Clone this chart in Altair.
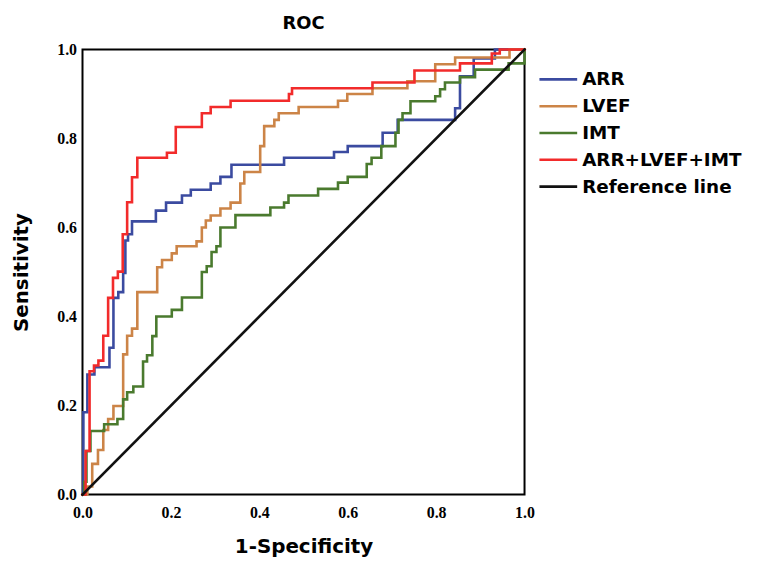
import altair as alt
import pandas as pd

series_names = ["ARR", "LVEF", "IMT", "ARR+LVEF+IMT", "Reference line"]
series_colors = ["#3B4BA0", "#CC8447", "#4A7A2E", "#F22B2B", "#111111"]
series_widths = [2.6, 2.6, 2.6, 2.6, 1.4]

tick_values = [0.0, 0.2, 0.4, 0.6, 0.8, 1.0]

# x position of each vertical step (1-specificity) and level reached (sensitivity)
arr_fpr = [0.002, 0.011, 0.027, 0.061, 0.070, 0.081, 0.092, 0.097, 0.103, 0.112,
           0.166, 0.189, 0.225, 0.245, 0.290, 0.312, 0.337, 0.456, 0.569, 0.600,
           0.679, 0.713, 0.843, 0.854, 0.885, 0.933]
arr_tpr = [0.185, 0.270, 0.286, 0.330, 0.442, 0.455, 0.498, 0.571, 0.585, 0.614,
           0.638, 0.656, 0.672, 0.685, 0.699, 0.714, 0.741, 0.757, 0.770, 0.783,
           0.813, 0.842, 0.868, 0.940, 0.980, 1.0]

lvef_fpr = [0.011, 0.022, 0.035, 0.047, 0.058, 0.070, 0.092, 0.101, 0.112, 0.124,
            0.169, 0.180, 0.202, 0.213, 0.258, 0.270, 0.279, 0.290, 0.312, 0.335,
            0.357, 0.366, 0.402, 0.411, 0.434, 0.444, 0.489, 0.578, 0.599, 0.656,
            0.735, 0.798, 0.843, 0.966]
lvef_tpr = [0.018, 0.069, 0.100, 0.145, 0.170, 0.199, 0.315, 0.357, 0.373, 0.455,
            0.511, 0.527, 0.542, 0.558, 0.569, 0.600, 0.616, 0.627, 0.643, 0.656,
            0.699, 0.725, 0.783, 0.828, 0.842, 0.857, 0.871, 0.885, 0.900, 0.913,
            0.929, 0.967, 0.982, 1.0]

imt_fpr = [0.004, 0.009, 0.018, 0.049, 0.079, 0.092, 0.101, 0.115, 0.137, 0.146,
           0.158, 0.167, 0.202, 0.225, 0.270, 0.281, 0.292, 0.303, 0.312, 0.346,
           0.425, 0.456, 0.466, 0.533, 0.578, 0.600, 0.643, 0.654, 0.676, 0.708,
           0.715, 0.724, 0.742, 0.798, 0.809, 0.820, 0.854, 0.888, 0.964, 1.0]
imt_tpr = [0.029, 0.098, 0.143, 0.158, 0.170, 0.214, 0.230, 0.243, 0.299, 0.313,
           0.356, 0.400, 0.415, 0.443, 0.500, 0.513, 0.545, 0.558, 0.600, 0.628,
           0.645, 0.656, 0.672, 0.687, 0.701, 0.714, 0.743, 0.757, 0.783, 0.813,
           0.842, 0.857, 0.884, 0.895, 0.911, 0.926, 0.938, 0.955, 0.969, 1.0]

comb_fpr = [0.007, 0.016, 0.026, 0.036, 0.047, 0.058, 0.069, 0.080, 0.091, 0.101,
            0.112, 0.124, 0.191, 0.211, 0.270, 0.290, 0.335, 0.467, 0.474, 0.656,
            0.751, 0.854, 0.926, 0.944]
comb_tpr = [0.098, 0.277, 0.290, 0.301, 0.357, 0.442, 0.487, 0.501, 0.585, 0.657,
            0.713, 0.757, 0.768, 0.826, 0.857, 0.871, 0.885, 0.900, 0.913, 0.926,
            0.953, 0.969, 0.991, 1.0]

ref_fpr = [0.0, 1.0]
ref_tpr = [0.0, 1.0]


def staircase(name, xs, ys):
    rows = [(name, 0, 0.0, 0.0)]
    prev = 0.0
    for x, y in zip(xs, ys):
        rows.append((name, len(rows), x, prev))
        rows.append((name, len(rows), x, y))
        prev = y
    rows.append((name, len(rows), 1.0, prev))
    return rows


rows = []
rows += staircase("ARR", arr_fpr, arr_tpr)
rows += staircase("LVEF", lvef_fpr, lvef_tpr)
rows += staircase("IMT", imt_fpr, imt_tpr)
rows += staircase("ARR+LVEF+IMT", comb_fpr, comb_tpr)
rows += [("Reference line", i, x, y) for i, (x, y) in enumerate(zip(ref_fpr, ref_tpr))]
df = pd.DataFrame(rows, columns=["series", "idx", "fpr", "tpr"])

axis_common = dict(
    values=tick_values, format=".1f", grid=False, domain=False, ticks=False, tickSize=0,
    labelFont="Liberation Serif", labelFontSize=16, labelFontWeight="bold", labelColor="black",
    labelFlush=False,
    titleFont="DejaVu Sans", titleFontSize=20, titleFontWeight="bold", titleColor="black",
)

chart = alt.Chart(df).mark_line(strokeJoin="miter", strokeCap="square").encode(
    x=alt.X("fpr:Q", scale=alt.Scale(domain=[0, 1], nice=False),
            axis=alt.Axis(title="1-Specificity", labelPadding=10, titlePadding=16, **axis_common)),
    y=alt.Y("tpr:Q", scale=alt.Scale(domain=[0, 1], nice=False),
            axis=alt.Axis(title="Sensitivity", labelPadding=6, titlePadding=25, **axis_common)),
    color=alt.Color("series:N", sort=series_names,
                    scale=alt.Scale(domain=series_names, range=series_colors),
                    legend=alt.Legend(title=None)),
    strokeWidth=alt.StrokeWidth("series:N", sort=series_names,
                                scale=alt.Scale(domain=series_names, range=series_widths),
                                legend=alt.Legend(title=None)),
    order=alt.Order("idx:Q"),
).properties(
    width=445, height=448,
    title=alt.Title("ROC", font="DejaVu Sans", fontSize=18, fontWeight="bold", color="black",
                    anchor="middle", offset=9),
    autosize=alt.AutoSizeParams(type="none"),
    padding={"left": 75, "top": 40, "right": 229, "bottom": 63},
).configure_view(
    stroke="black", strokeWidth=2
).configure_legend(
    orient="none", legendX=468, legendY=19, symbolType="M-2,0H2", symbolSize=361,
    labelFont="DejaVu Sans", labelFontSize=18.5, labelFontWeight="bold",
    labelColor="black", labelOffset=13, labelLimit=400, rowPadding=6, padding=0,
)

chart.save("out.html", embed_options={"renderer": "svg", "actions": False})
